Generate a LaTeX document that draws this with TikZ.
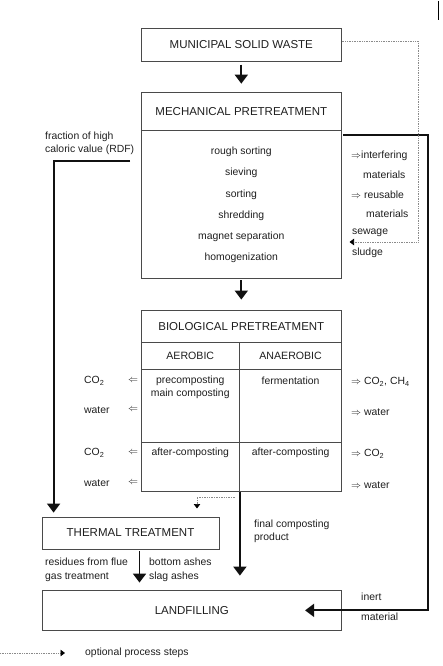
\documentclass[tikz,border=0pt]{standalone}
\usepackage{fontspec}
\setmainfont{Liberation Sans}
\usetikzlibrary{arrows.meta,calc}
\usepackage{xcolor}
\definecolor{boxline}{HTML}{4A4A4A}
\definecolor{flowline}{HTML}{111111}
\definecolor{optline}{HTML}{8A8A8A}
\definecolor{inkcolor}{HTML}{1E1E1E}

\begin{document}
\begin{tikzpicture}[x=1pt, y=-1pt,
  box/.style={draw=boxline, line width=0.8pt, inner sep=0pt, text=inkcolor,
    font=\fontsize{11.5}{13}\selectfont},
  cell/.style={draw=boxline, line width=0.8pt, inner sep=0pt, text=inkcolor,
    font=\fontsize{10.6}{13}\selectfont},
  lbl/.style={inner sep=0pt, text=inkcolor, font=\fontsize{10.4}{13.3}\selectfont},
  flow/.style={draw=flowline, line width=1.8pt, -{Triangle[width=13pt,length=9pt]}},
  optflow/.style={draw=optline, line width=0.7pt, densely dotted,
    -{Triangle[width=6.5pt,length=4.5pt,color=black]}}]

  % Page frame
  \useasboundingbox (0,0) rectangle (442,666);
  \draw[black, line width=1.2pt] (438.5,1) -- (438.5,20);

  % Municipal solid waste
  \node[box, minimum width=200.7pt, minimum height=32.5pt] (msw) at (241.3,45) {MUNICIPAL SOLID WASTE};

  % Mechanical pretreatment
  \node[box, minimum width=200.7pt, minimum height=37.3pt] (mechhead) at (241.3,111.3) {MECHANICAL PRETREATMENT};
  \node[box, minimum width=200.7pt, minimum height=148pt] (mechbody) at (241.3,204) {};
  \node[lbl, align=center, font=\fontsize{10.4}{21.2}\selectfont] (mechsteps) at (241.3,205)
    {rough sorting\\sieving\\sorting\\shredding\\magnet separation\\homogenization};

  % Outputs of mechanical step
  \node[lbl, anchor=west] (outa) at (351,156) {$\Rightarrow$interfering};
  \node[lbl, anchor=west] (outb) at (363,175) {materials};
  \node[lbl, anchor=west] (outc) at (351,195) {$\Rightarrow$ reusable};
  \node[lbl, anchor=west] (outd) at (366,214) {materials};
  \node[lbl, anchor=west] (sewage) at (352,233) {sewage};
  \node[lbl, anchor=west] (sludge) at (352,253) {sludge};
  \node[lbl, anchor=west, align=left] (rdflabel) at (45,143.5) {fraction of high\\caloric value (RDF)};

  % Biological pretreatment
  \node[box, minimum width=200.7pt, minimum height=31.3pt] (biohead) at (241.3,326.3) {BIOLOGICAL PRETREATMENT};
  \node[cell, minimum width=98.5pt, minimum height=27pt] (aerhead) at (190.25,355.5) {AEROBIC};
  \node[cell, minimum width=102.2pt, minimum height=27pt] (anaerhead) at (290.6,355.5) {ANAEROBIC};
  \node[cell, minimum width=98.5pt, minimum height=73.7pt] (aermain) at (190.25,405.85) {};
  \node[cell, minimum width=102.2pt, minimum height=73.7pt] (anaermain) at (290.6,405.85) {};
  \node[cell, minimum width=98.5pt, minimum height=49pt] (aerafter) at (190.25,467.2) {};
  \node[cell, minimum width=102.2pt, minimum height=49pt] (anaerafter) at (290.6,467.2) {};

  \node[lbl, align=center] (aertxt) at (190.25,387.5) {precomposting\\main composting};
  \node[lbl] (anaertxt) at (290.6,380.5) {fermentation};
  \node[lbl] (aertxtb) at (190.25,453) {after-composting};
  \node[lbl] (anaertxtb) at (290.6,453) {after-composting};

  % Emissions left
  \node[lbl, anchor=west] (co2a) at (84,381) {CO\textsubscript{2}};
  \node[lbl] (arra) at (133,381) {$\Leftarrow$};
  \node[lbl, anchor=west] (watera) at (84,410) {water};
  \node[lbl] (arrb) at (133,410) {$\Leftarrow$};
  \node[lbl, anchor=west] (co2b) at (84,453) {CO\textsubscript{2}};
  \node[lbl] (arrc) at (133,453) {$\Leftarrow$};
  \node[lbl, anchor=west] (waterb) at (84,483) {water};
  \node[lbl] (arrd) at (133,483) {$\Leftarrow$};

  % Emissions right
  \node[lbl, anchor=west] (gasa) at (351,382) {$\Rightarrow$ CO\textsubscript{2}, CH\textsubscript{4}};
  \node[lbl, anchor=west] (waterc) at (351,412) {$\Rightarrow$ water};
  \node[lbl, anchor=west] (gasb) at (351,454) {$\Rightarrow$ CO\textsubscript{2}};
  \node[lbl, anchor=west] (waterd) at (351,485) {$\Rightarrow$ water};

  % Thermal treatment and landfilling
  \node[box, minimum width=177pt, minimum height=32pt] (thermal) at (130.5,533) {THERMAL TREATMENT};
  \node[box, minimum width=299.7pt, minimum height=40.7pt] (landfill) at (191.85,610.35) {LANDFILLING};

  \node[lbl, anchor=west, align=left] (finallabel) at (254,531.5) {final composting\\product};
  \node[lbl, anchor=west, align=left, font=\fontsize{10.4}{14}\selectfont] (residues) at (45,570) {residues from flue\\gas treatment};
  \node[lbl, anchor=west, align=left, font=\fontsize{10.4}{14}\selectfont] (ashes) at (149,570) {bottom ashes\\slag ashes};
  \node[lbl, anchor=west] (inert) at (361,597) {inert};
  \node[lbl, anchor=west] (material) at (361,617) {material};

  % Main flows
  \draw[flow, shorten <=3pt, shorten >=8.6pt] (msw.south) -- (mechhead.north);
  \draw[flow, shorten <=2pt, shorten >=10.7pt] (mechbody.south) -- (biohead.north);
  \coordinate (rdfstart) at (130,161);
  \draw[flow, shorten >=4pt] (rdfstart) -| ([xshift=12pt]thermal.north west);
  \coordinate (inertstart) at (343,135);
  \coordinate (inertturn) at (428,135);
  \draw[flow] (inertstart) -- (inertturn) |- ([xshift=-37pt]landfill.east);
  \draw[flow, shorten >=14pt] (aerafter.south east) -- (aerafter.south east |- landfill.north);
  \draw[flow, shorten <=2pt, shorten >=7pt] ([xshift=9pt]thermal.south) -- ([xshift=9pt]thermal.south |- landfill.north);

  % Optional process steps
  \coordinate (optstart) at (341.7,41);
  \coordinate (optturn) at (418,41);
  \coordinate (sludgein) at (349.5,242);
  \draw[optflow] (optstart) -- (optturn) |- (sludgein);
  \coordinate (optbio) at (235,497);
  \coordinate (optbioend) at (197,508.5);
  \draw[optflow] (optbio) -| (optbioend);

  % Legend
  \coordinate (legstart) at (0,653);
  \coordinate (legend) at (65,653);
  \draw[optflow] (legstart) -- (legend);
  \node[lbl, anchor=west] (legtext) at (85,653) {optional process steps};

\end{tikzpicture}
\end{document}
